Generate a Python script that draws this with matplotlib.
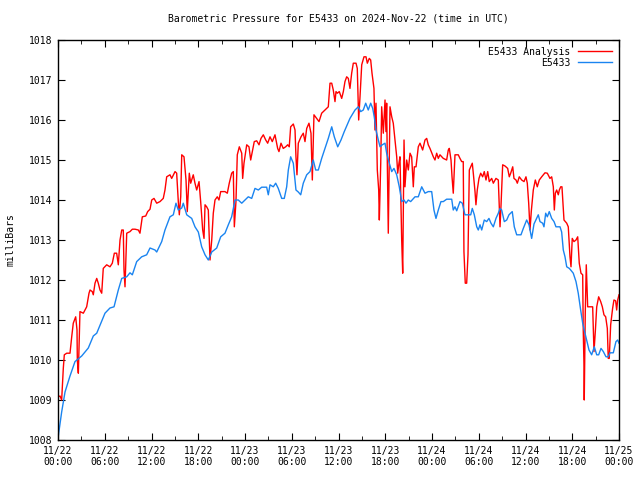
import matplotlib
matplotlib.use('Agg')
import matplotlib.pyplot as plt

# hours since 11/22 00:00 UTC and pressure in milliBars
obs_hours = [0.04, 0.47, 0.90, 1.54, 2.18, 3.04, 3.89, 4.53, 4.97, 5.39, 6.03, 6.67, 7.19, 7.74,
             8.18, 8.82, 9.24, 9.54, 10.1, 10.74, 11.38, 11.81, 12.45, 12.67, 13.31, 13.73, 14.37,
             14.8, 15.14, 15.44, 15.88, 16.08, 16.52, 17.16, 17.58, 18.01, 18.44, 18.87, 19.29,
             19.73, 20.37, 20.88, 21.43, 21.86, 22.29, 22.72, 23.14, 23.58, 24.0, 24.42, 24.86,
             25.28, 25.71, 26.14, 26.78, 26.99, 27.21, 27.63, 27.94, 28.27, 28.71, 29.04, 29.35,
             29.56, 29.86, 30.2, 30.54, 30.84, 31.15, 31.48, 31.92, 32.34, 32.76, 33.07, 33.41,
             33.84, 34.27, 34.69, 35.13, 35.46, 35.9, 36.32, 36.74, 37.47, 38.12, 38.54, 38.85,
             39.18, 39.49, 39.82, 40.13, 40.39, 40.59, 40.81, 41.11, 41.33, 41.62, 41.97, 42.18,
             42.52, 42.83, 43.12, 43.47, 43.8, 44.11, 44.41, 44.66, 44.96, 45.26, 45.82, 46.24,
             46.68, 47.1, 47.52, 47.96, 48.25, 48.51, 48.81, 49.15, 49.45, 49.88, 50.53, 50.73,
             50.95, 51.17, 51.59, 51.89, 52.23, 52.97, 53.17, 53.43, 53.74, 53.94, 54.16, 54.38,
             54.71, 55.02, 55.31, 55.57, 55.87, 56.21, 56.51, 56.73, 56.94, 57.28, 57.59, 57.88,
             58.3, 58.56, 58.87, 59.42, 59.72, 60.15, 60.45, 60.79, 61.09, 61.64, 61.86, 62.2,
             62.37, 62.59, 62.8, 63.05, 63.36, 63.66, 63.91, 64.43, 64.64, 64.85, 65.07, 65.29,
             65.62, 65.8, 66.13, 66.48, 66.77, 67.08, 67.34, 67.54, 67.85, 68.15, 68.49, 68.83,
             69.14, 69.39, 69.69, 69.99, 70.33, 70.62, 70.84, 71.27, 71.61, 71.83, 72.0]
obs_mb = [1008.1, 1008.7, 1009.2, 1009.6, 1009.96, 1010.1, 1010.3, 1010.6, 1010.67, 1010.87,
          1011.17, 1011.3, 1011.33, 1011.75, 1012.04, 1012.08, 1012.18, 1012.13, 1012.46, 1012.58,
          1012.63, 1012.8, 1012.75, 1012.7, 1012.96, 1013.25, 1013.58, 1013.63, 1013.92, 1013.75,
          1013.8, 1013.92, 1013.63, 1013.54, 1013.33, 1013.2, 1012.83, 1012.63, 1012.5, 1012.7,
          1012.8, 1013.08, 1013.17, 1013.38, 1013.58, 1014.0, 1014.0, 1013.92, 1014.0, 1014.08,
          1014.04, 1014.29, 1014.25, 1014.32, 1014.32, 1014.13, 1014.38, 1014.33, 1014.42, 1014.29,
          1014.04, 1014.04, 1014.33, 1014.75, 1015.08, 1014.92, 1014.25, 1014.2, 1014.13, 1014.42,
          1014.63, 1014.71, 1015.0, 1014.75, 1014.75, 1015.04, 1015.29, 1015.54, 1015.83, 1015.58,
          1015.33, 1015.5, 1015.71, 1016.04, 1016.25, 1016.33, 1016.21, 1016.25, 1016.42, 1016.25,
          1016.42, 1016.29, 1016.08, 1015.75, 1015.5, 1015.33, 1015.38, 1015.42, 1015.17, 1014.92,
          1014.71, 1014.79, 1014.63, 1014.33, 1013.96, 1014.0, 1013.92, 1014.0, 1013.96, 1014.08,
          1014.08, 1014.33, 1014.17, 1014.21, 1014.21, 1013.75, 1013.54, 1013.75, 1013.96, 1013.96,
          1014.02, 1014.02, 1013.75, 1013.83, 1013.73, 1013.96, 1013.92, 1013.63, 1013.63, 1013.79,
          1013.63, 1013.33, 1013.25, 1013.38, 1013.25, 1013.5, 1013.46, 1013.54, 1013.42, 1013.33,
          1013.54, 1013.67, 1013.79, 1013.75, 1013.46, 1013.5, 1013.63, 1013.71, 1013.33, 1013.13,
          1013.13, 1013.29, 1013.5, 1013.38, 1013.04, 1013.4, 1013.63, 1013.46, 1013.42, 1013.33,
          1013.67, 1013.58, 1013.71, 1013.54, 1013.46, 1013.33, 1013.33, 1013.2, 1012.75, 1012.58,
          1012.33, 1012.29, 1012.25, 1012.17, 1011.96, 1011.67, 1011.25, 1010.92, 1010.75, 1010.5,
          1010.25, 1010.13, 1010.33, 1010.13, 1010.13, 1010.29, 1010.21, 1010.08, 1010.08, 1010.18,
          1010.18, 1010.46, 1010.5, 1010.42]

ana_hours = [0.04, 0.26, 0.47, 0.68, 0.81, 1.12, 1.54, 1.76, 1.96, 2.27, 2.44, 2.48, 2.61, 2.82,
             3.25, 3.68, 3.98, 4.11, 4.4, 4.53, 4.75, 4.97, 5.17, 5.39, 5.61, 5.81, 6.25, 6.67,
             6.97, 7.23, 7.53, 7.66, 7.74, 7.96, 8.18, 8.38, 8.47, 8.6, 8.82, 9.24, 9.54, 9.88,
             10.31, 10.52, 10.82, 11.26, 11.51, 11.81, 12.03, 12.32, 12.67, 13.09, 13.51, 13.73,
             13.95, 14.37, 14.59, 15.02, 15.23, 15.44, 15.57, 15.75, 15.88, 16.17, 16.43, 16.59,
             16.85, 17.03, 17.36, 17.58, 17.8, 18.1, 18.31, 18.57, 18.74, 18.87, 19.08, 19.29,
             19.51, 19.73, 19.93, 20.15, 20.44, 20.66, 20.88, 21.43, 21.73, 21.98, 22.29, 22.5,
             22.63, 22.84, 23.01, 23.27, 23.58, 23.7, 23.87, 24.22, 24.51, 24.73, 24.94, 25.19,
             25.5, 25.8, 26.05, 26.35, 26.66, 26.91, 27.21, 27.5, 27.85, 28.19, 28.36, 28.62,
             28.91, 29.22, 29.48, 29.68, 29.86, 30.2, 30.42, 30.54, 30.67, 30.84, 31.19, 31.48,
             31.7, 31.92, 32.21, 32.47, 32.64, 32.85, 33.2, 33.5, 33.84, 34.27, 34.69, 34.91,
             35.13, 35.33, 35.55, 35.68, 35.85, 36.1, 36.41, 36.62, 36.83, 37.05, 37.26, 37.47,
             37.69, 37.9, 38.25, 38.41, 38.59, 38.76, 38.98, 39.27, 39.53, 39.7, 39.95, 40.13,
             40.3, 40.55, 40.68, 40.81, 40.98, 41.16, 41.24, 41.42, 41.54, 41.75, 41.97, 42.09,
             42.18, 42.26, 42.39, 42.61, 42.83, 43.03, 43.25, 43.47, 43.6, 43.76, 43.89, 44.11,
             44.24, 44.41, 44.53, 44.75, 44.96, 45.18, 45.39, 45.6, 45.73, 45.95, 46.24, 46.46,
             46.8, 47.1, 47.32, 47.52, 47.74, 48.17, 48.38, 48.6, 48.81, 49.02, 49.45, 49.88,
             50.09, 50.22, 50.44, 50.57, 50.73, 50.95, 51.37, 51.59, 51.81, 52.01, 52.1, 52.27,
             52.45, 52.62, 52.79, 52.97, 53.17, 53.3, 53.52, 53.64, 53.81, 54.03, 54.25, 54.5,
             54.71, 54.93, 55.15, 55.35, 55.66, 55.87, 56.21, 56.51, 56.73, 56.85, 57.07, 57.37,
             57.71, 57.92, 58.1, 58.36, 58.52, 58.78, 58.95, 59.2, 59.51, 59.81, 60.06, 60.23,
             60.41, 60.58, 60.74, 61.0, 61.26, 61.51, 61.77, 62.08, 62.5, 62.8, 63.14, 63.36,
             63.57, 63.7, 63.83, 64.0, 64.21, 64.34, 64.52, 64.68, 64.94, 65.29, 65.49, 65.71,
             65.84, 66.0, 66.22, 66.48, 66.7, 66.9, 67.12, 67.34, 67.41, 67.51, 67.54, 67.67,
             67.8, 67.98, 68.27, 68.62, 68.79, 68.96, 69.14, 69.39, 69.65, 69.86, 70.07, 70.29,
             70.5, 70.62, 70.75, 70.93, 71.18, 71.35, 71.57, 71.7, 71.83, 72.0]
ana_mb = [1009.08, 1009.1, 1009.0, 1009.79, 1010.13, 1010.17, 1010.17, 1010.58, 1010.92, 1011.08,
          1010.75, 1010.0, 1009.67, 1011.21, 1011.17, 1011.33, 1011.67, 1011.75, 1011.71, 1011.63,
          1011.92, 1012.04, 1011.92, 1011.75, 1011.67, 1012.29, 1012.38, 1012.33, 1012.42, 1012.67,
          1012.67, 1012.5, 1012.38, 1013.0, 1013.25, 1013.25, 1012.25, 1011.83, 1013.17, 1013.21,
          1013.27, 1013.27, 1013.25, 1013.17, 1013.58, 1013.6, 1013.71, 1013.77, 1014.0, 1014.04,
          1013.92, 1013.96, 1014.04, 1014.25, 1014.58, 1014.63, 1014.54, 1014.71, 1014.67, 1013.96,
          1013.63, 1014.08, 1015.13, 1015.08, 1014.5, 1013.71, 1014.67, 1014.42, 1014.63, 1014.42,
          1014.25, 1014.46, 1013.96, 1013.25, 1013.04, 1013.88, 1013.83, 1013.75, 1012.5, 1013.0,
          1013.67, 1014.0, 1014.08, 1014.0, 1014.21, 1014.21, 1014.17, 1014.42, 1014.67, 1014.71,
          1013.33, 1013.96, 1015.13, 1015.33, 1015.17, 1014.54, 1014.92, 1015.38, 1015.33, 1015.0,
          1015.21, 1015.46, 1015.48, 1015.38, 1015.54, 1015.63, 1015.5, 1015.42, 1015.58, 1015.46,
          1015.63, 1015.29, 1015.21, 1015.42, 1015.29, 1015.33, 1015.38, 1015.33, 1015.83, 1015.9,
          1015.75, 1015.08, 1014.63, 1015.42, 1015.58, 1015.67, 1015.46, 1015.79, 1015.92, 1015.67,
          1014.5, 1016.13, 1016.04, 1015.96, 1016.17, 1016.25, 1016.33, 1016.92, 1016.92, 1016.75,
          1016.46, 1016.71, 1016.67, 1016.71, 1016.54, 1016.71, 1016.96, 1017.08, 1017.04, 1016.79,
          1017.17, 1017.42, 1017.42, 1017.29, 1016.0, 1016.58, 1017.38, 1017.58, 1017.58, 1017.42,
          1017.54, 1017.5, 1017.17, 1016.79, 1015.75, 1016.42, 1014.75, 1014.25, 1013.5, 1014.92,
          1016.33, 1015.67, 1016.5, 1015.71, 1016.42, 1015.0, 1013.17, 1016.33, 1016.08, 1015.92,
          1015.5, 1015.08, 1014.67, 1014.92, 1015.08, 1013.0, 1012.17, 1015.5, 1014.33, 1015.0,
          1014.75, 1015.17, 1015.08, 1014.33, 1014.83, 1014.83, 1015.33, 1015.42, 1015.25, 1015.5,
          1015.54, 1015.38, 1015.29, 1015.08, 1015.0, 1015.17, 1015.04, 1015.13, 1015.04, 1015.0,
          1015.25, 1015.29, 1015.0, 1014.58, 1014.17, 1015.13, 1015.13, 1015.04, 1014.96, 1014.96,
          1012.71, 1011.92, 1011.92, 1012.63, 1014.75, 1014.83, 1014.92, 1014.67, 1014.21, 1013.88,
          1014.25, 1014.54, 1014.67, 1014.58, 1014.71, 1014.5, 1014.71, 1014.46, 1014.54, 1014.42,
          1014.54, 1014.5, 1013.33, 1013.83, 1014.88, 1014.85, 1014.79, 1014.58, 1014.67, 1014.83,
          1014.54, 1014.5, 1014.42, 1014.58, 1014.5, 1014.46, 1014.58, 1014.42, 1013.92, 1013.25,
          1013.71, 1014.25, 1014.5, 1014.33, 1014.5, 1014.58, 1014.68, 1014.67, 1014.54, 1014.58,
          1014.33, 1013.75, 1014.17, 1014.25, 1014.13, 1014.25, 1014.33, 1014.33, 1013.5, 1013.42,
          1013.33, 1012.58, 1012.33, 1013.04, 1012.96, 1013.0, 1013.08, 1012.42, 1012.17, 1012.13,
          1010.75, 1009.83, 1009.0, 1011.17, 1012.38, 1011.33, 1011.33, 1011.33, 1010.21, 1010.71,
          1011.33, 1011.58, 1011.46, 1011.33, 1011.13, 1011.08, 1010.79, 1010.04, 1010.04, 1010.88,
          1011.29, 1011.5, 1011.48, 1011.25, 1011.5, 1011.63]

tick_hours = list(range(0, 73, 6))
tick_labels = ['11/22\n00:00', '11/22\n06:00', '11/22\n12:00', '11/22\n18:00',
               '11/23\n00:00', '11/23\n06:00', '11/23\n12:00', '11/23\n18:00',
               '11/24\n00:00', '11/24\n06:00', '11/24\n12:00', '11/24\n18:00',
               '11/25\n00:00']

plt.rcParams['font.family'] = 'DejaVu Sans Mono'
plt.rcParams['font.size'] = 7

fig = plt.figure(figsize=(6.4, 4.8), dpi=100)
ax = fig.add_axes([58 / 640, 40 / 480, 561 / 640, 400 / 480])

ax.plot(ana_hours, ana_mb, color='#ff0000', lw=1, label='E5433 Analysis')
ax.plot(obs_hours, obs_mb, color='#1a84f0', lw=1, label='E5433')

ax.set_xlim(0, 72)
ax.set_ylim(1008, 1018)
ax.set_xticks(tick_hours)
ax.set_xticklabels(tick_labels)
ax.set_xticks(range(3, 72, 6), minor=True)
ax.set_yticks(range(1008, 1019))
ax.tick_params(which='both', direction='in', top=True, right=True, pad=4)
ax.tick_params(which='major', length=5)
ax.tick_params(which='minor', length=3)
for s in ax.spines.values():
    s.set_linewidth(1)

ax.set_ylabel('milliBars', labelpad=10)
ax.set_title('Barometric Pressure for E5433 on 2024-Nov-22 (time in UTC)', fontsize=7, pad=13)
ax.legend(loc='upper right', frameon=False, markerfirst=False, handlelength=3.5,
          borderaxespad=0.3, labelspacing=0.1, handletextpad=0.8)

plt.savefig('out.png', dpi=100)
